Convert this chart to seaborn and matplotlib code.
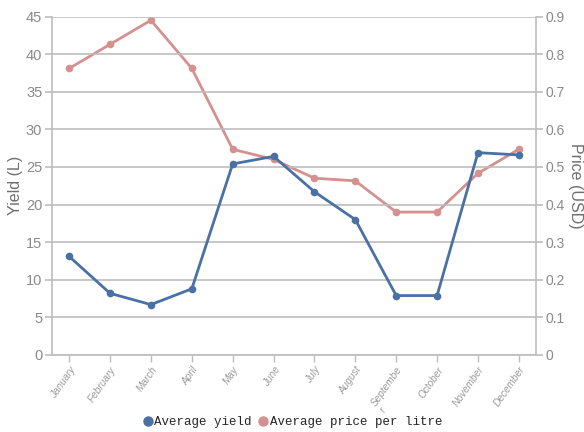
import matplotlib
matplotlib.use("Agg")
import matplotlib.pyplot as plt
import seaborn as sns
import pandas as pd
from matplotlib.lines import Line2D

months = ["January", "February", "March", "April", "May", "June", "July",
          "August", "September", "October", "November", "December"]
avg_yield = [13.1, 8.2, 6.7, 8.8, 25.4, 26.4, 21.7, 18.0, 7.9, 7.9, 26.9, 26.6]
avg_price = [0.762, 0.826, 0.89, 0.762, 0.547, 0.52, 0.47, 0.463, 0.38, 0.38, 0.483, 0.547]
month_labels = ["January", "February", "March", "April", "May", "June", "July",
                "August", "Septembe\nr", "October", "November", "December"]

BLUE = "#4a71a3"
PINK = "#d4918f"
GRID = "#bdbdbd"
TICK = "#8a8a8a"

sns.set_theme(style="white")
plt.rcParams['font.family'] = ['Liberation Sans', 'DejaVu Sans']

df = pd.DataFrame({"idx": range(len(months)), "month": months,
                   "yield": avg_yield, "price": avg_price})

fig = plt.figure(figsize=(5.84, 4.32), dpi=100)
ax = fig.add_axes([52/584, 1 - 355/432, (536 - 52)/584, (355 - 16.5)/432])
ax2 = ax.twinx()

sns.lineplot(data=df, x="idx", y="price", ax=ax2, color=PINK, marker="o",
             markersize=5.5, markeredgewidth=0, linewidth=2, zorder=3)
sns.lineplot(data=df, x="idx", y="yield", ax=ax, color=BLUE, marker="o",
             markersize=5.5, markeredgewidth=0, linewidth=2, zorder=3)

ax.set_zorder(ax2.get_zorder() + 1)
ax.patch.set_visible(False)

ax.set_ylim(0, 45)
ax2.set_ylim(0, 0.9)
ax.set_xlim(-0.42, 11.42)
ax.set_yticks(range(0, 46, 5))
ax2.set_yticks([i / 10 for i in range(10)])
ax2.set_yticklabels(["0"] + [f"{i/10:.1f}" for i in range(1, 10)])

ax.yaxis.grid(True, color=GRID, linewidth=1.2)
ax.set_axisbelow(True)

ax.set_xticks(range(len(months)))
ax.set_xticklabels(month_labels, rotation=55, ha="right", rotation_mode="anchor",
                   fontsize=7.2, style="italic", color="#9a9a9a",
                   multialignment="left", linespacing=1.0)

for a in (ax, ax2):
    for s in a.spines.values():
        s.set_visible(False)
ax.spines["left"].set_visible(True)
ax.spines["bottom"].set_visible(True)
ax2.spines["right"].set_visible(True)
for s in (ax.spines["left"], ax.spines["bottom"], ax2.spines["right"]):
    s.set_color(GRID)
    s.set_linewidth(1.2)

ax.tick_params(axis="y", length=5, width=1.2, color=GRID, labelsize=10.5,
               labelcolor=TICK, left=True, pad=2)
ax.tick_params(axis="x", length=5, width=1, color=GRID, bottom=True, pad=2)
ax2.tick_params(axis="y", length=5, width=1.2, color=GRID, labelsize=10,
                labelcolor=TICK, right=True, pad=1.5)

ax.set_xlabel("")
ax.set_ylabel("Yield (L)", fontsize=11.5, color="#6e6e6e", labelpad=2)
ax2.set_ylabel("Price (USD)", fontsize=11.5, color="#6e6e6e", rotation=270,
               va="center")
ax2.yaxis.set_label_coords((575 - 52) / 484, 0.5)

handles = [Line2D([], [], color=BLUE, marker="o", linestyle="none", markersize=6.5),
           Line2D([], [], color=PINK, marker="o", linestyle="none", markersize=6.5)]
fig.legend(handles, ["Average yield", "Average price per litre"], loc="center",
           bbox_to_anchor=(0.5, 1 - 422/432), ncol=2, frameon=False,
           prop={"family": "Liberation Mono", "size": 9}, handletextpad=0.0,
           columnspacing=0.4, handlelength=1.0)

fig.savefig("out.png", dpi=100)
